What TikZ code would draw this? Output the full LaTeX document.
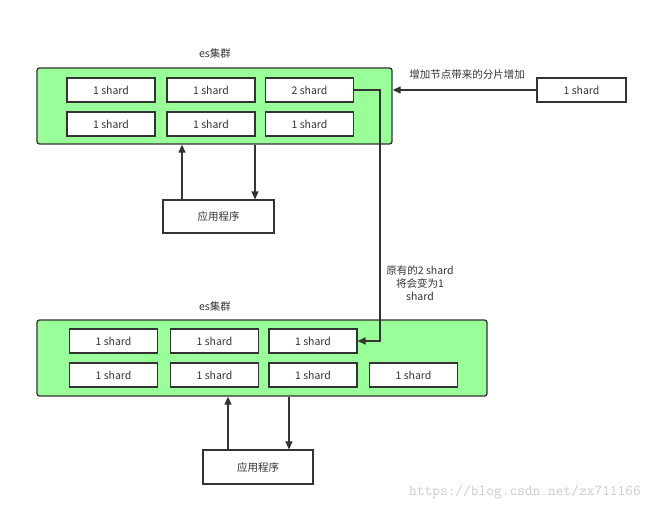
\documentclass[tikz,border=0pt]{standalone}
\usepackage{fontspec}
\setmainfont{Noto Sans CJK SC}
\usepackage{tikz}
\usetikzlibrary{arrows.meta,positioning,calc}
\definecolor{clgreen}{RGB}{153,255,153}
\definecolor{lnc}{RGB}{51,51,51}

\begin{document}
\begin{tikzpicture}[x=1pt,y=-1pt,font=\fontsize{10.5}{13}\selectfont,
            cluster/.style={draw=lnc,fill=clgreen,rounded corners=2.5pt,line width=1.3pt,minimum height=76pt},
            shard/.style={draw=lnc,fill=white,line width=1.2pt,minimum width=88pt,minimum height=24pt,inner sep=0pt,text=lnc},
            app/.style={draw=lnc,fill=white,line width=1.1pt,minimum width=110pt,minimum height=33pt,inner sep=0pt,text=lnc},
            conn/.style={draw=lnc,line width=1.2pt,-{Triangle[length=8pt,width=7pt]}},
            note/.style={text=lnc,align=center}]
            \useasboundingbox (0,0) rectangle (650,508);
            % first cluster
            \node[note](c0) at (215,54) {es集群};
            \node[cluster,minimum width=355pt](top) at (214.5,106) {};
            \node[shard](t1) at (111,90) {1 shard};
            \node[shard](t2) at (211,90) {1 shard};
            \node[shard](t3) at (309.5,90) {2 shard};
            \node[shard](t4) at (111,124) {1 shard};
            \node[shard](t5) at (211,124) {1 shard};
            \node[shard](t6) at (309.5,124) {1 shard};
            \node[shard,minimum width=89pt](new) at (581.5,90) {1 shard};
            \node[note](n0) at (467,75) {增加节点带来的分片增加};
            \node[app,minimum width=111pt](a0) at (218.5,216.5) {应用程序};
            % second cluster
            \node[note](c1) at (215,306) {es集群};
            \node[cluster,minimum width=450pt](bot) at (262,358) {};
            \node[shard](b1) at (113.5,341) {1 shard};
            \node[shard](b2) at (214.5,341) {1 shard};
            \node[shard](b3) at (313,341) {1 shard};
            \node[shard](b4) at (113.5,375) {1 shard};
            \node[shard](b5) at (214.5,375) {1 shard};
            \node[shard](b6) at (313,375) {1 shard};
            \node[shard](b7) at (413.5,375) {1 shard};
            \node[app,minimum height=34pt](a1) at (258,467) {应用程序};
            \node[note](n1) at (420,283) {原有的2 shard\\将会变为1\\shard};
            \node[text=gray!40,font=\ttfamily\fontsize{15}{16}\selectfont](wm) at (525,492) {https://blog.csdn.net/zx711166};
            % connectors
            \coordinate (bend) at (380,90);
            \draw[conn] (t3.east) -- (bend) |- (b3.east);
            \draw[conn] (new.west) -- (new.west -| top.east);
            \draw[conn] ([xshift=-36.5pt]a0.north) -- ([xshift=-36.5pt]a0.north |- top.south);
            \draw[conn] ([xshift=36.5pt]a0.north |- top.south) -- ([xshift=36.5pt]a0.north);
            \draw[conn] ([xshift=-30pt]a1.north) -- ([xshift=-30pt]a1.north |- bot.south);
            \draw[conn] ([xshift=31pt]a1.north |- bot.south) -- ([xshift=31pt]a1.north);
        \end{tikzpicture}
\end{document}
